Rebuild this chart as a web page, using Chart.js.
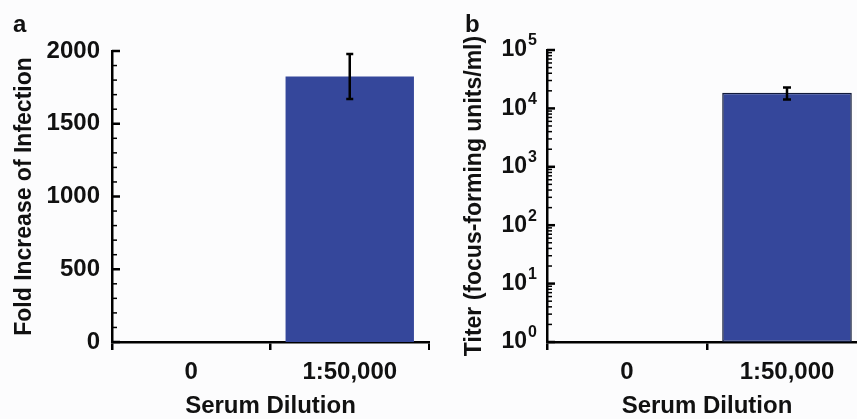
<!DOCTYPE html>
<html>
<head>
<meta charset="utf-8">
<script src="https://cdn.jsdelivr.net/npm/chart.js@4.4.1/dist/chart.umd.min.js"></script>
<style>
  html, body { margin: 0; padding: 0; background: #fcfcfd; overflow: hidden; width: 857px; height: 419px; }
  .panel { position: absolute; top: 0; height: 419px; }
  #pa { left: 0; width: 430px; }
  #pb { left: 430px; width: 440px; }
  .lbl { position: absolute; top: 12px; font: bold 24px "Liberation Sans", Arial, sans-serif; line-height: 24px; color: #111; }
</style>
</head>
<body>
<div class="panel" id="pa"><canvas id="chartA" width="430" height="419"></canvas></div>
<div class="panel" id="pb"><canvas id="chartB" width="440" height="419"></canvas></div>
<div class="lbl" style="left:13px">a</div>
<div class="lbl" style="left:465px">b</div>
<script>
const categories = ['0', '1:50,000'];

// panel a
const foldIncrease = [0, 1825];
const foldError = [0, 155];
const foldTicks = [0, 500, 1000, 1500, 2000];

// panel b
const titer = [0, 18500];
const titerError = [0, 4300];
const titerTicks = [1, 10, 100, 1000, 10000, 100000];

const FONT = '"Liberation Sans", Arial, sans-serif';
const BAR = '#35479b';

Chart.defaults.font.family = FONT;
Chart.defaults.color = '#111';

// inward tick marks on the y axis
const innerTicks = {
  id: 'innerTicks',
  afterDraw(chart, args, opts) {
    const y = chart.scales.y;
    const ctx = chart.ctx;
    const x0 = chart.chartArea.left;
    ctx.save();
    ctx.strokeStyle = '#000';
    ctx.lineWidth = 2.5;
    opts.major.forEach(v => {
      const p = y.getPixelForValue(v);
      ctx.beginPath(); ctx.moveTo(x0, p); ctx.lineTo(x0 + 8, p); ctx.stroke();
    });
    ctx.lineWidth = 1.5;
    opts.minor.forEach(v => {
      const p = y.getPixelForValue(v);
      ctx.beginPath(); ctx.moveTo(x0, p); ctx.lineTo(x0 + 5, p); ctx.stroke();
    });
    ctx.restore();
  }
};

// 10^n labels with a raised exponent
const powerLabels = {
  id: 'powerLabels',
  afterDraw(chart) {
    const y = chart.scales.y;
    const ctx = chart.ctx;
    const x = chart.chartArea.left - 20;
    ctx.save();
    ctx.fillStyle = '#111';
    ctx.textBaseline = 'middle';
    titerTicks.forEach(v => {
      const p = y.getPixelForValue(v);
      ctx.font = 'bold 23px ' + FONT;
      ctx.textAlign = 'right';
      ctx.fillText('10', x, p);
      ctx.font = 'bold 16px ' + FONT;
      ctx.textAlign = 'left';
      ctx.fillText(String(Math.round(Math.log10(v))), x + 1, p - 9);
    });
    ctx.restore();
  }
};

const errorBars = {
  id: 'errorBars',
  afterDatasetsDraw(chart, args, opts) {
    const meta = chart.getDatasetMeta(0);
    const y = chart.scales.y;
    const ctx = chart.ctx;
    const vals = chart.data.datasets[0].data;
    ctx.save();
    ctx.strokeStyle = '#000';
    ctx.lineWidth = 2.5;
    meta.data.forEach((bar, i) => {
      const e = opts.errors[i];
      if (!e) return;
      const top = y.getPixelForValue(vals[i] + e);
      const bot = y.getPixelForValue(vals[i] - e);
      const w = opts.cap / 2;
      ctx.beginPath();
      ctx.moveTo(bar.x, top); ctx.lineTo(bar.x, bot);
      ctx.moveTo(bar.x - w, top); ctx.lineTo(bar.x + w, top);
      ctx.moveTo(bar.x - w, bot); ctx.lineTo(bar.x + w, bot);
      ctx.stroke();
    });
    ctx.restore();
  }
};

function xScale() {
  return {
    afterFit: s => { s.height = 77; },
    grid: { display: true, drawOnChartArea: false, drawTicks: true, tickLength: 8, color: '#000', lineWidth: 2.5 },
    border: { display: true, color: '#000', width: 2.5 },
    ticks: { font: { size: 24, weight: 'bold' }, padding: 8 },
    title: { display: true, text: 'Serum Dilution', font: { size: 24, weight: 'bold' }, padding: { top: 4, bottom: -2 } }
  };
}

const foldMinor = [];
for (let v = 100; v < 2000; v += 100) if (v % 500) foldMinor.push(v);

new Chart(document.getElementById('chartA'), {
  type: 'bar',
  data: {
    labels: categories,
    datasets: [{ data: foldIncrease, backgroundColor: BAR, borderWidth: 0, barPercentage: 0.81, categoryPercentage: 1 }]
  },
  options: {
    responsive: false,
    animation: false,
    devicePixelRatio: 1,
    layout: { padding: { top: 51, right: 1, left: 0, bottom: 0 } },
    plugins: {
      legend: { display: false },
      tooltip: { enabled: false },
      innerTicks: { major: foldTicks, minor: foldMinor },
      errorBars: { errors: foldError, cap: 7 }
    },
    scales: {
      x: xScale(),
      y: {
        min: 0, max: 2000,
        afterFit: s => { s.width = 112; },
        afterBuildTicks: s => { s.ticks = foldTicks.map(v => ({ value: v })); },
        grid: { display: false, drawTicks: false },
        border: { display: true, color: '#000', width: 2.5 },
        ticks: { font: { size: 24, weight: 'bold' }, padding: 12, callback: v => String(v) },
        title: { display: true, text: 'Fold Increase of Infection', font: { size: 23, weight: 'bold' }, padding: { top: 11, bottom: 0 } }
      }
    }
  },
  plugins: [innerTicks, errorBars]
});

const titerMinor = [];
for (let d = 1; d < 100000; d *= 10) for (let k = 2; k <= 9; k++) titerMinor.push(d * k);

new Chart(document.getElementById('chartB'), {
  type: 'bar',
  data: {
    labels: categories,
    datasets: [{ data: titer, backgroundColor: BAR, borderColor: '#111a3a', borderWidth: 1.5, borderSkipped: false, barPercentage: 0.81, categoryPercentage: 1 }]
  },
  options: {
    responsive: false,
    animation: false,
    devicePixelRatio: 1,
    layout: { padding: { top: 50, right: 3, left: 0, bottom: 0 } },
    plugins: {
      legend: { display: false },
      tooltip: { enabled: false },
      innerTicks: { major: titerTicks, minor: titerMinor },
      errorBars: { errors: titerError, cap: 8 }
    },
    scales: {
      x: xScale(),
      y: {
        type: 'logarithmic',
        min: 1, max: 100000,
        afterFit: s => { s.width = 117; },
        afterBuildTicks: s => { s.ticks = titerTicks.map(v => ({ value: v })); },
        grid: { display: false, drawTicks: false },
        border: { display: true, color: '#000', width: 2.5 },
        ticks: { display: false },
        title: { display: true, text: 'Titer (focus-forming units/ml)', font: { size: 23, weight: 'bold' }, padding: { top: 31, bottom: 0 } }
      }
    }
  },
  plugins: [innerTicks, errorBars, powerLabels]
});
</script>
</body>
</html>
